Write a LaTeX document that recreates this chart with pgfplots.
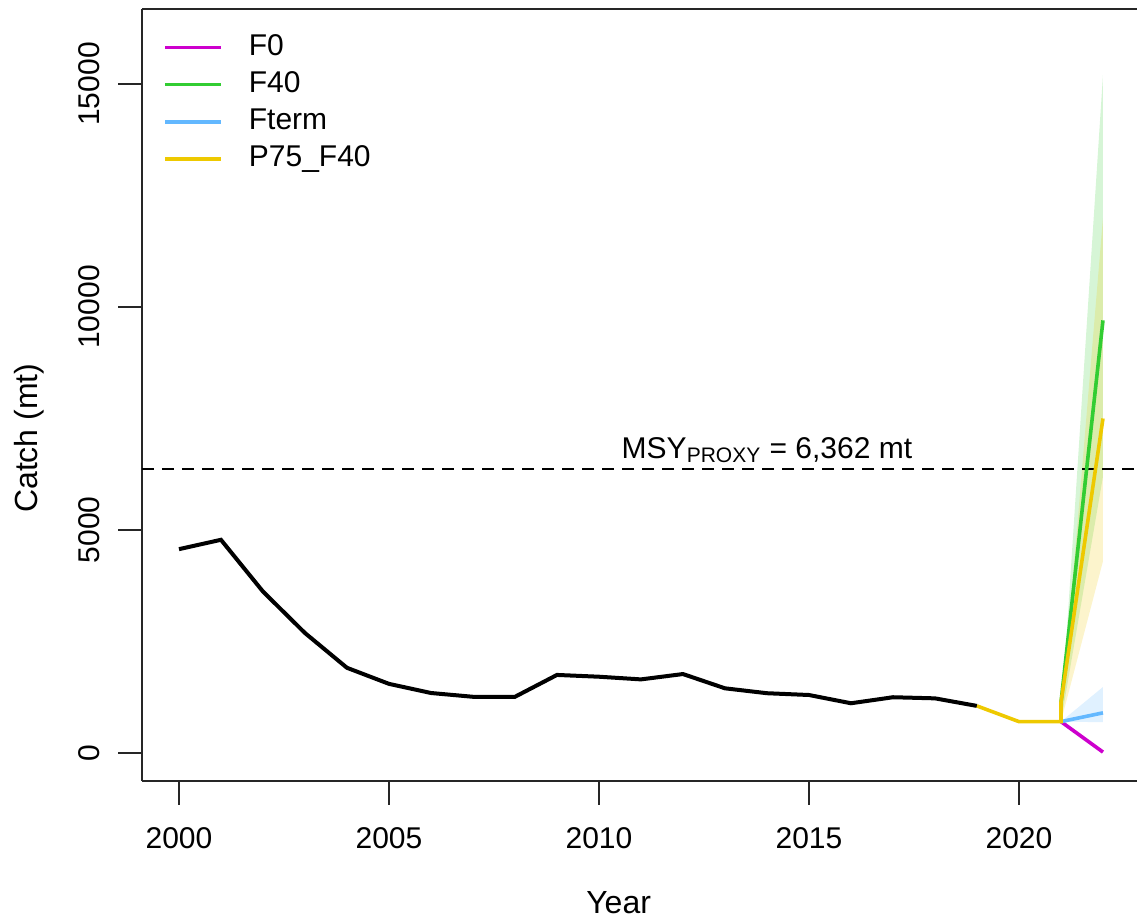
\documentclass[border=0pt]{standalone}
\usepackage{pgfplots}
\pgfplotsset{compat=1.18}
\usepackage{fontspec}
\setmainfont{Liberation Sans}

\definecolor{cF0}{HTML}{CD00CD}
\definecolor{cF40}{HTML}{32CD32}
\definecolor{cFterm}{HTML}{63B8FF}
\definecolor{cP75}{HTML}{EEC900}

\begin{document}
\fontsize{15}{18}\selectfont
\begin{tikzpicture}
\begin{axis}[
    at={(71pt,69.5pt)}, anchor=south west,
    scale only axis,
    width=497.5pt, height=386pt,
    xmin=1999.12, xmax=2022.81,
    ymin=-628, ymax=16682,
    axis x line*=box, axis y line*=left,
    axis line style={line width=1pt, black!85},
    xtick={2000,2005,2010,2015,2020},
    ytick={0,5000,10000,15000},
    xtick pos=bottom, ytick pos=left,
    tick align=outside,
    major tick length=12pt,
    tick style={line width=1pt, black!85},
    /pgf/number format/1000 sep={},
    /pgf/number format/assume math mode=true,
    scaled ticks=false,
    ticklabel style={font=\fontsize{15}{18}\selectfont, inner sep=0pt},
    xticklabel style={anchor=north},
    xticklabel shift=11pt,
    yticklabel style={rotate=90, anchor=south},
    yticklabel shift=9pt,
    xlabel={Year},
    ylabel={Catch (mt)},
    label style={font=\fontsize{16}{19}\selectfont},
    xlabel style={at={(axis description cs:0.479,-0.171)}, anchor=base},
    ylabel style={at={(axis description cs:-0.1136,0.444)}, anchor=center, rotate=0},
    legend style={at={(axis description cs:0.021,0.969)}, anchor=north west,
        draw=none, fill=none, inner sep=0pt, row sep=4.6pt,
        font=\fontsize{15}{18}\selectfont,
        nodes={inner sep=0pt, text height=11pt, text depth=3pt},
        /tikz/every odd column/.append style={column sep=13pt}},
    legend cell align=left,
    legend image code/.code={\draw[#1] (0pt,0pt) -- (28pt,0pt);},
]

% uncertainty ribbons
\addplot[forget plot, draw=none, fill=cF40, fill opacity=0.2]
    coordinates {(2021,703) (2022,15200) (2022,6200)};
\addplot[forget plot, draw=none, fill=cP75, fill opacity=0.2]
    coordinates {(2021,703) (2022,12000) (2022,4300)};
\addplot[forget plot, draw=none, fill=cFterm, fill opacity=0.2]
    coordinates {(2021,703) (2022,1480) (2022,690)};

% observed catch
\addplot[forget plot, black, line width=2pt] coordinates {
    (2000,4570) (2001,4780) (2002,3620) (2003,2690) (2004,1910)
    (2005,1550) (2006,1345) (2007,1260) (2008,1260) (2009,1750)
    (2010,1710) (2011,1650) (2012,1770) (2013,1450) (2014,1340)
    (2015,1300) (2016,1115) (2017,1250) (2018,1225) (2019,1055)
};

% MSY proxy
\addplot[forget plot, black, line width=1pt, dash pattern=on 6pt off 4pt]
    coordinates {(1999.12,6362) (2022.81,6362)};
\node[anchor=base, inner sep=0pt] at (axis cs:2014,6362) [yshift=5.5pt]
    {MSY\textsubscript{PROXY} = 6,362 mt};

% projections
\addplot[cF0, line width=1.8pt] coordinates {(2021,703) (2022,20)};
\addlegendentry{F0}
\addplot[cF40, line width=1.8pt] coordinates {(2021,703) (2021,1130) (2022,9700)};
\addlegendentry{F40}
\addplot[cFterm, line width=1.8pt] coordinates {(2021,703) (2022,900)};
\addlegendentry{Fterm}
\addplot[cP75, line width=1.8pt] coordinates {(2019,1055) (2020,703) (2021,703) (2021,1130) (2022,7500)};
\addlegendentry{P75\_F40}

\end{axis}
\pgfresetboundingbox
\useasboundingbox (0,0) rectangle (568.5pt,460pt);
\end{tikzpicture}
\end{document}
